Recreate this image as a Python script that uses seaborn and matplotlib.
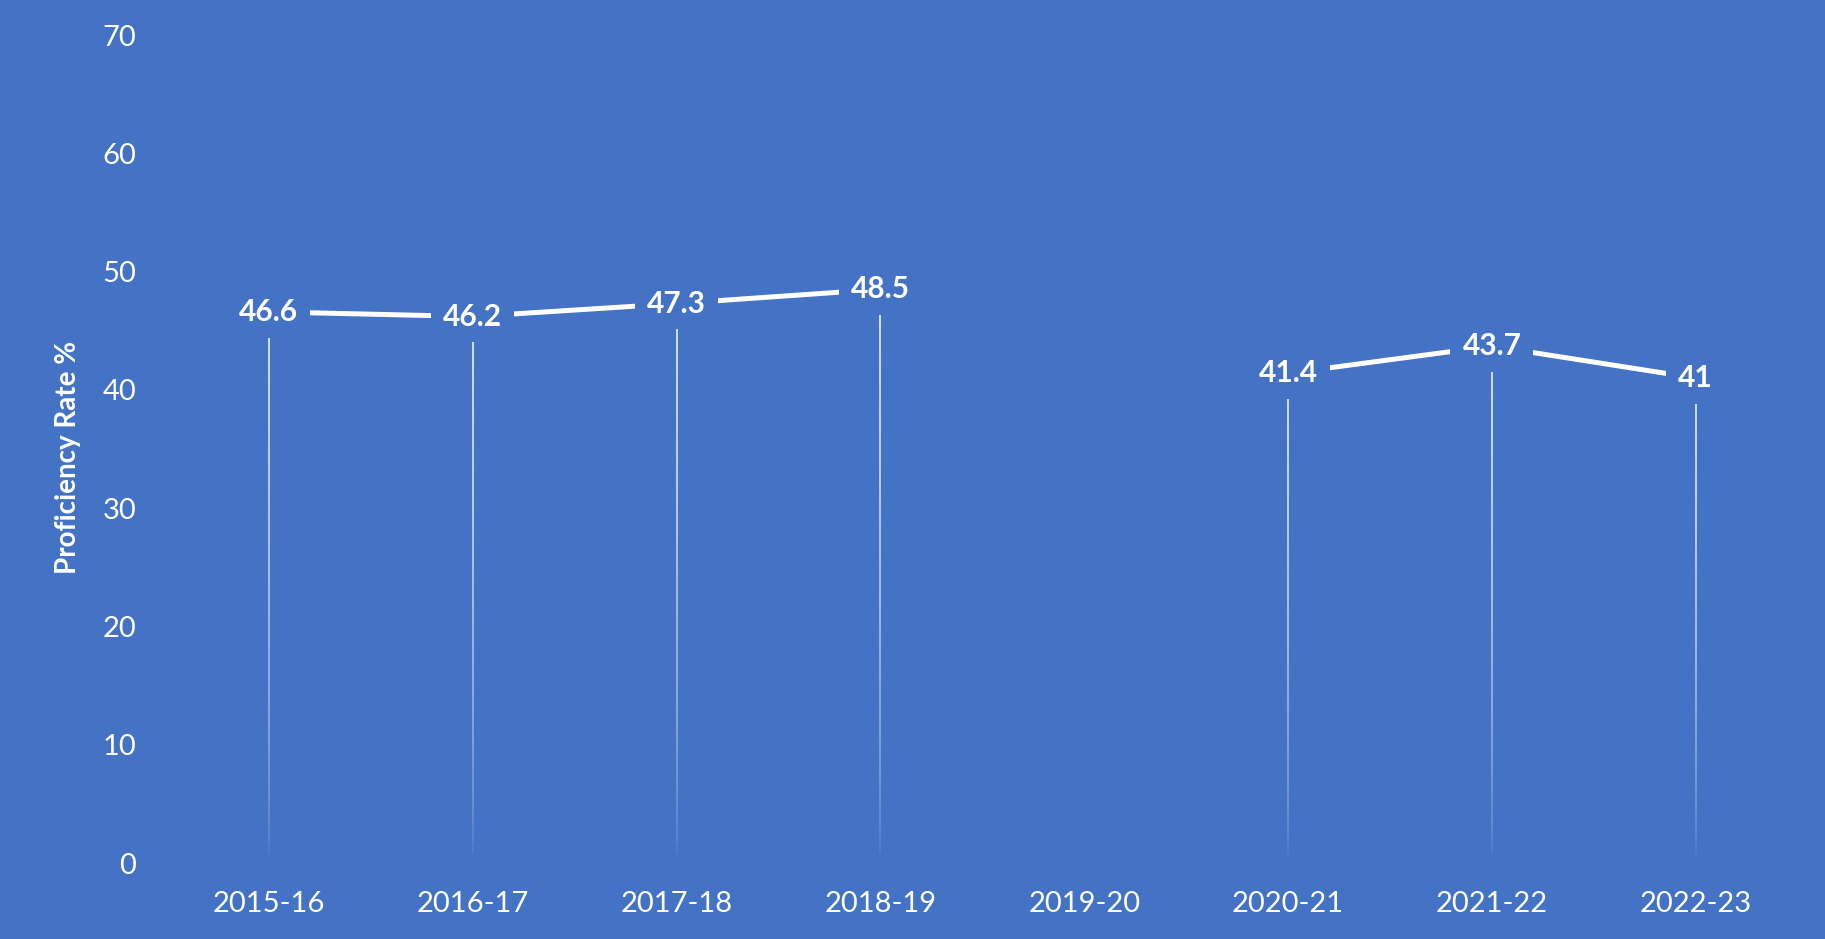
"""Proficiency rate by school year, drawn with seaborn on a solid blue panel."""

import matplotlib
matplotlib.use("Agg")
import matplotlib.pyplot as plt
from matplotlib.collections import LineCollection
import numpy as np
import pandas as pd
import seaborn as sns

YEARS = ["2015-16", "2016-17", "2017-18", "2018-19", "2019-20", "2020-21", "2021-22", "2022-23"]
RATES = [46.6, 46.2, 47.3, 48.5, np.nan, 41.4, 43.7, 41.0]
LABELS = ["46.6", "46.2", "47.3", "48.5", "", "41.4", "43.7", "41"]
SEGMENT = [0, 0, 0, 0, 0, 1, 1, 1]

BG = "#4472C4"

sns.set_theme(style="white")
plt.rcParams["font.family"] = ["Lato", "DejaVu Sans"]

df = pd.DataFrame({"pos": range(len(YEARS)), "year": YEARS, "rate": RATES, "seg": SEGMENT})

fig = plt.figure(figsize=(18.25, 9.39), dpi=100, facecolor=BG)
ax = fig.add_axes([0.0915, 0.0809, 0.8935, 0.8818])
ax.set_facecolor(BG)

# fading drop lines from each point down to zero
valid = df.dropna(subset=["rate"])
for x, v in zip(valid["pos"], valid["rate"]):
    ys = np.linspace(0, v, 60)
    segs = [[(x, ys[i]), (x, ys[i + 1])] for i in range(len(ys) - 1)]
    alphas = np.linspace(0.0, 0.9, len(segs)) ** 0.6
    cols = [(1, 1, 1, a) for a in alphas]
    ax.add_collection(LineCollection(segs, colors=cols, linewidths=1.2, zorder=1))

sns.lineplot(
    data=valid,
    x="pos",
    y="rate",
    units="seg",
    estimator=None,
    color="white",
    linewidth=3.6,
    ax=ax,
    zorder=2,
)

for x, v, lab in zip(df["pos"], df["rate"], LABELS):
    if not np.isnan(v):
        ax.text(
            x, v, lab, ha="center", va="center", fontsize=21.5, fontweight="bold",
            color="white", zorder=3,
            bbox=dict(boxstyle="square,pad=0.4", facecolor=BG, edgecolor="none"),
        )

ax.set_xlim(-0.5, len(YEARS) - 0.5)
ax.set_ylim(0, 70)
ax.set_yticks(range(0, 71, 10))
ax.set_xticks(range(len(YEARS)))
ax.set_xticklabels(YEARS)
ax.tick_params(axis="y", length=0, pad=22, labelsize=21, labelcolor="white")
ax.tick_params(axis="x", length=0, pad=20, labelsize=21, labelcolor="white")
ax.set_xlabel("")
ax.set_ylabel("Proficiency Rate %", fontsize=20, fontweight="bold", color="white")
ax.yaxis.set_label_coords(-0.0607, 0.49)
ax.yaxis.label.set_verticalalignment("center")
sns.despine(ax=ax, left=True, bottom=True)
ax.grid(False)

fig.savefig("out.png", dpi=100, facecolor=BG)
